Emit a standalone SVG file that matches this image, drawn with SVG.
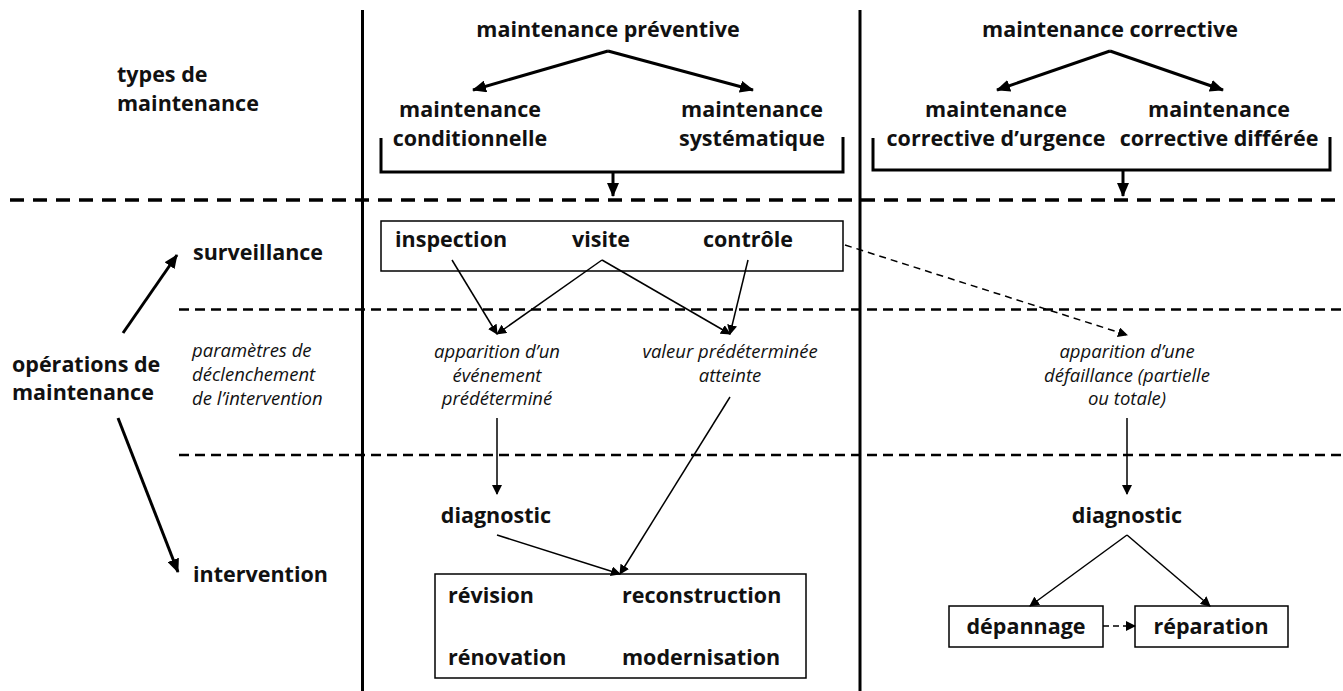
<svg xmlns="http://www.w3.org/2000/svg" width="1343" height="691" viewBox="0 0 1343 691">
<defs>
<marker id="ah" markerWidth="10" markerHeight="10" refX="9" refY="5" orient="auto" markerUnits="userSpaceOnUse"><path d="M0,0 L10,5 L0,10 Z" fill="#000"/></marker>
<marker id="ahb" markerWidth="14" markerHeight="12" refX="13" refY="6" orient="auto" markerUnits="userSpaceOnUse"><path d="M0,0 L14,6 L0,12 Z" fill="#000"/></marker>
<style>
.b{font-family:"Open Sans","Noto Sans","Liberation Sans",sans-serif;font-weight:bold;font-size:21.5px;fill:#111}
.i{font-family:"Open Sans","Noto Sans","Liberation Sans",sans-serif;font-style:italic;font-size:18.5px;fill:#111}
.m{text-anchor:middle}
.thick{stroke:#000;stroke-width:3;fill:none}
.thin{stroke:#000;stroke-width:1.5;fill:none}
.box{stroke:#000;stroke-width:1.5;fill:#fff}
.d1{stroke:#000;stroke-width:3.5;stroke-dasharray:14 9;fill:none}
.d2{stroke:#000;stroke-width:2.5;stroke-dasharray:10 6;fill:none}
</style>
</defs>
<rect width="1343" height="691" fill="#fff"/>
<g id="grid">
<line class="thick" x1="362.5" y1="10" x2="362.5" y2="691"/>
<line class="thick" x1="860" y1="10" x2="860" y2="691"/>
<line class="d1" x1="10" y1="200" x2="1343" y2="200"/>
<line class="d2" x1="179" y1="309.5" x2="1343" y2="309.5"/>
<line class="d2" x1="179" y1="455" x2="1343" y2="455"/>
</g>
<g id="labels-left">
<text class="b" x="117" y="82">types de</text>
<text class="b" x="117" y="111">maintenance</text>
<text class="b" x="193" y="260">surveillance</text>
<text class="b" x="12" y="372">opérations de</text>
<text class="b" x="12" y="400">maintenance</text>
<text class="i" x="192" y="357">paramètres de</text>
<text class="i" x="192" y="381">déclenchement</text>
<text class="i" x="192" y="405">de l’intervention</text>
<text class="b" x="193" y="582">intervention</text>
</g>
<g id="preventive">
<text class="b m" x="608" y="37">maintenance préventive</text>
</g>
<g id="conditionnelle">
<text class="b m" x="470" y="117">maintenance</text>
<text class="b m" x="470" y="146">conditionnelle</text>
</g>
<g id="systematique">
<text class="b m" x="752" y="117">maintenance</text>
<text class="b m" x="752" y="146">systématique</text>
</g>
<g id="corrective">
<text class="b m" x="1110" y="37">maintenance corrective</text>
</g>
<g id="urgence">
<text class="b m" x="996" y="117">maintenance</text>
<text class="b m" x="996" y="146">corrective d’urgence</text>
</g>
<g id="differee">
<text class="b m" x="1219" y="117">maintenance</text>
<text class="b m" x="1219" y="146">corrective différée</text>
</g>
<g id="surveillance-box">
<rect class="box" x="381" y="221" width="462" height="50"/>
<text class="b" x="395" y="247">inspection</text>
<text class="b m" x="601" y="247">visite</text>
<text class="b m" x="748" y="247">contrôle</text>
</g>
<g id="evenement">
<text class="i m" x="497" y="358">apparition d’un</text>
<text class="i m" x="497" y="382">événement</text>
<text class="i m" x="497" y="405">prédéterminé</text>
</g>
<g id="valeur">
<text class="i m" x="730" y="358">valeur prédéterminée</text>
<text class="i m" x="730" y="382">atteinte</text>
</g>
<g id="defaillance">
<text class="i m" x="1127" y="358">apparition d’une</text>
<text class="i m" x="1127" y="382">défaillance (partielle</text>
<text class="i m" x="1127" y="405">ou totale)</text>
</g>
<g id="diagnostic-prev">
<text class="b m" x="496" y="523">diagnostic</text>
</g>
<g id="diagnostic-corr">
<text class="b m" x="1127" y="523">diagnostic</text>
</g>
<g id="intervention-box">
<rect class="box" x="435" y="574" width="371" height="104"/>
<text class="b" x="448" y="603">révision</text>
<text class="b" x="622" y="603">reconstruction</text>
<text class="b" x="448" y="665">rénovation</text>
<text class="b" x="622" y="665">modernisation</text>
</g>
<g id="depannage">
<rect class="box" x="949" y="606" width="154" height="41"/>
<text class="b m" x="1026" y="634">dépannage</text>
</g>
<g id="reparation">
<rect class="box" x="1135" y="606" width="153" height="41"/>
<text class="b m" x="1211" y="634">réparation</text>
</g>
<g id="connectors">
<path class="thick" d="M381,138 V172 H843 V137"/>
<path class="thick" d="M873,138 V170 H1330 V137"/>
<line class="thick" x1="613" y1="172" x2="613" y2="196" marker-end="url(#ahb)"/>
<line class="thick" x1="1123" y1="170" x2="1123" y2="196" marker-end="url(#ahb)"/>
<line class="thick" x1="608" y1="51" x2="473" y2="90" marker-end="url(#ahb)"/>
<line class="thick" x1="608" y1="51" x2="753" y2="90" marker-end="url(#ahb)"/>
<line class="thick" x1="1110" y1="51" x2="997" y2="90" marker-end="url(#ahb)"/>
<line class="thick" x1="1110" y1="51" x2="1223" y2="90" marker-end="url(#ahb)"/>
<line class="thick" x1="123" y1="333" x2="177" y2="255" marker-end="url(#ahb)"/>
<line class="thick" x1="118" y1="418" x2="178" y2="572" marker-end="url(#ahb)"/>
<line class="thin" x1="452" y1="260" x2="497" y2="334" marker-end="url(#ah)"/>
<line class="thin" x1="602" y1="260" x2="497" y2="334" marker-end="url(#ah)"/>
<line class="thin" x1="602" y1="260" x2="730" y2="334" marker-end="url(#ah)"/>
<line class="thin" x1="748" y1="260" x2="730" y2="334" marker-end="url(#ah)"/>
<line class="thin" x1="845" y1="245" x2="1127" y2="335" stroke-dasharray="7 5" marker-end="url(#ah)"/>
<line class="thin" x1="497" y1="418" x2="497" y2="494" marker-end="url(#ah)"/>
<line class="thin" x1="1127" y1="418" x2="1127" y2="494" marker-end="url(#ah)"/>
<line class="thin" x1="497" y1="535" x2="620" y2="574" marker-end="url(#ah)"/>
<line class="thin" x1="730" y1="397" x2="620" y2="574" marker-end="url(#ah)"/>
<line class="thin" x1="1127" y1="535" x2="1030" y2="606" marker-end="url(#ah)"/>
<line class="thin" x1="1127" y1="535" x2="1210" y2="606" marker-end="url(#ah)"/>
<line class="thin" x1="1103" y1="626" x2="1135" y2="626" stroke-dasharray="6 4" marker-end="url(#ah)"/>
</g>
</svg>
